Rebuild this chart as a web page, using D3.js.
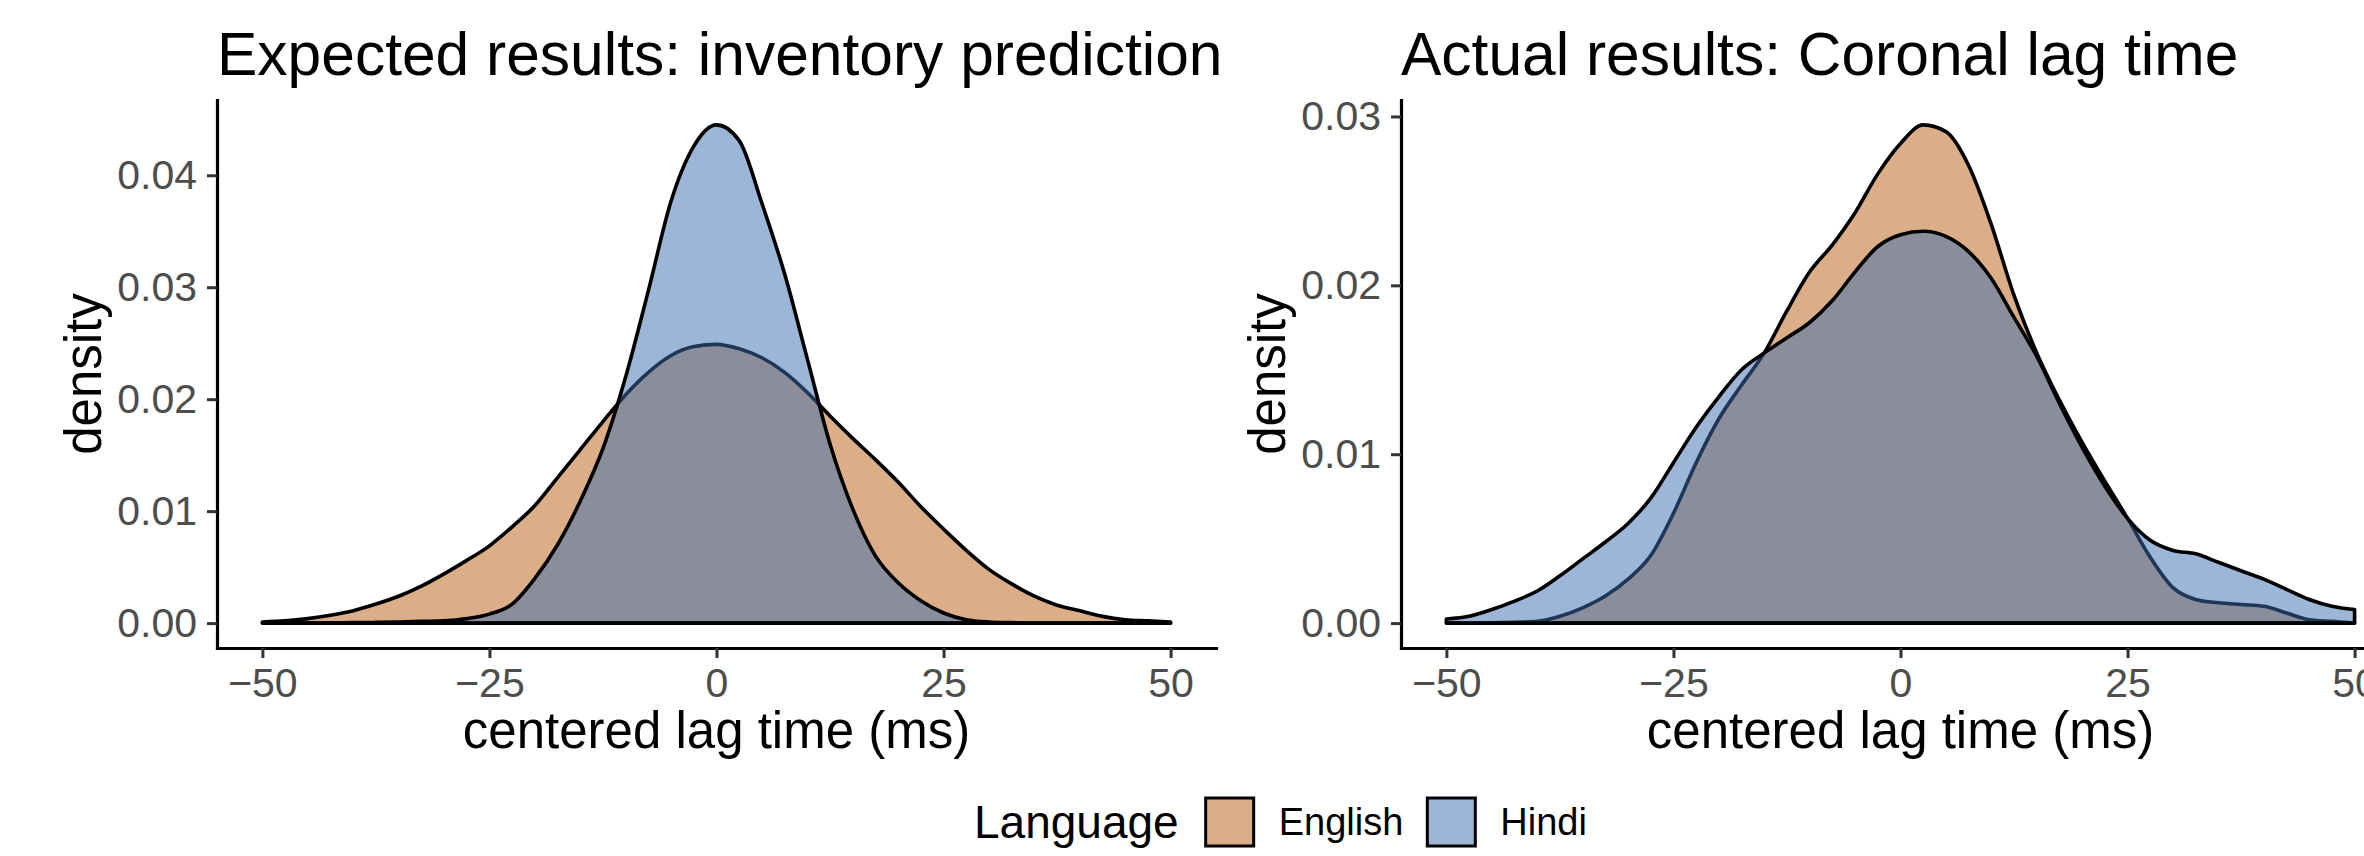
<!DOCTYPE html>
<html>
<head>
<meta charset="utf-8">
<script src="https://cdn.jsdelivr.net/npm/d3@7"></script>
<style>
  body { margin: 0; background: #fff; }
  svg { display: block; font-family: "Liberation Sans", Arial, Helvetica, sans-serif; }
</style>
</head>
<body>
<svg id="chart" width="2364" height="856"></svg>
<script>
// sample points of the density curves (ms)
var lagTimes = [-50, -47.5, -45, -42.5, -40, -37.5, -35, -32.5, -30, -27.5, -25, -22.5, -20, -17.5, -15, -12.5, -10, -7.5, -5, -2.5,
  0, 2.5, 5, 7.5, 10, 12.5, 15, 17.5, 20, 22.5, 25, 27.5, 30, 32.5, 35, 37.5, 40, 42.5, 45, 47.5, 50];

var languages = ["English", "Hindi"];

// left panel : expected results
var expectedEnglish = [0.0001, 0.0002, 0.0004, 0.0007, 0.0011, 0.0017, 0.0024, 0.0033, 0.0044, 0.0056, 0.0069, 0.0086, 0.0105, 0.0130, 0.0155, 0.0180, 0.0204, 0.0224, 0.0239, 0.0247,
  0.0249, 0.0245, 0.0237, 0.0224, 0.0206, 0.0185, 0.0165, 0.0146, 0.0126, 0.0104, 0.0084, 0.0065, 0.0048, 0.0035, 0.0024, 0.0016, 0.0011, 0.0006, 0.0003, 0.0002, 0.0001];
var expectedHindi = [0, 0, 0, 0.00002, 0.00004, 0.00006, 0.0001, 0.00015, 0.0002, 0.0004, 0.0008, 0.0017, 0.0040, 0.0070, 0.0109, 0.0156, 0.0220, 0.0297, 0.0377, 0.0426,
  0.0445, 0.0431, 0.0375, 0.0312, 0.0236, 0.0160, 0.0102, 0.0060, 0.0036, 0.0020, 0.0009, 0.0003, 0.0001, 0.00004, 0, 0, 0, 0, 0, 0, 0];

// right panel : actual results
var actualEnglish = [0, 0, 0.00002, 0.00005, 0.0001, 0.0004, 0.0009, 0.0016, 0.0026, 0.0040, 0.0065, 0.0095, 0.0121, 0.0141, 0.0160, 0.0185, 0.0208, 0.0224, 0.0243, 0.0266,
  0.0284, 0.0295, 0.0291, 0.0271, 0.0236, 0.0194, 0.0160, 0.0132, 0.0107, 0.0084, 0.0062, 0.0039, 0.0021, 0.0014, 0.0012, 0.0011, 0.0010, 0.0006, 0.0002, 0.0001, 0];
var actualHindi = [0.00024, 0.0004, 0.0008, 0.0013, 0.0019, 0.0028, 0.0038, 0.0048, 0.0059, 0.0074, 0.0095, 0.0116, 0.0134, 0.0150, 0.0160, 0.0169, 0.0178, 0.0191, 0.0208, 0.0223,
  0.0230, 0.0232, 0.0229, 0.0220, 0.0204, 0.0181, 0.0158, 0.0130, 0.0104, 0.0081, 0.0062, 0.0049, 0.0043, 0.0041, 0.0036, 0.0031, 0.0026, 0.0020, 0.0014, 0.0010, 0.0008];

var xTicks = [-50, -25, 0, 25, 50];
var expectedYTicks = [0, 0.01, 0.02, 0.03, 0.04];
var actualYTicks = [0, 0.01, 0.02, 0.03];

var panels = [
  { title: "Expected results: inventory prediction", left: 217, series: [expectedEnglish, expectedHindi], yTicks: expectedYTicks },
  { title: "Actual results: Coronal lag time", left: 1401, series: [actualEnglish, actualHindi], yTicks: actualYTicks }
];

var svg = d3.select("#chart");
var plotTop = 100, plotBottom = 648, panelWidth = 999;

var color = d3.scaleOrdinal()
  .domain(languages)
  .range(["#b95e11", "#3b6bad"]);

svg.append("rect").attr("width", 2364).attr("height", 856).attr("fill", "#fff");

panels.forEach(function(p) {
  var g = svg.append("g");

  var x = d3.scaleLinear().domain([-55, 55]).range([p.left, p.left + panelWidth]);
  var ymax = d3.max(p.series, function(s) { return d3.max(s); });
  var y = d3.scaleLinear().domain([-0.05 * ymax, 1.05 * ymax]).range([plotBottom, plotTop]);

  var area = d3.area()
    .x(function(d, i) { return x(lagTimes[i]); })
    .y0(y(0))
    .y1(function(d) { return y(d); })
    .curve(d3.curveMonotoneX);

  // English first, Hindi drawn over it
  g.selectAll("path.density")
    .data(p.series)
    .enter().append("path")
    .attr("class", "density")
    .attr("d", area)
    .attr("fill", function(d, i) { return color(languages[i]); })
    .attr("fill-opacity", 0.5)
    .attr("stroke", "#000")
    .attr("stroke-width", 3.6)
    .attr("stroke-linejoin", "round");

  var xAxis = g.append("g")
    .attr("transform", "translate(0," + plotBottom + ")")
    .call(d3.axisBottom(x)
      .tickValues(xTicks)
      .tickSize(10)
      .tickSizeOuter(0)
      .tickPadding(10)
      .tickFormat(function(d) { return d < 0 ? "\u2212" + Math.abs(d) : d; }));

  var yAxis = g.append("g")
    .attr("transform", "translate(" + p.left + ",0)")
    .call(d3.axisLeft(y)
      .tickValues(p.yTicks)
      .tickSize(10)
      .tickSizeOuter(0)
      .tickPadding(10)
      .tickFormat(d3.format(".2f")));

  [xAxis, yAxis].forEach(function(ax) {
    ax.select(".domain").attr("stroke", "#000").attr("stroke-width", 3.2).attr("stroke-linecap", "square");
    ax.selectAll(".tick line").attr("stroke", "#333").attr("stroke-width", 3);
    ax.selectAll(".tick text")
      .attr("fill", "#4d4d4d")
      .attr("font-size", 41)
      .attr("font-family", "Liberation Sans, Arial, sans-serif");
  });

  g.append("text")
    .attr("x", p.left)
    .attr("y", 75)
    .attr("font-size", 60.5)
    .attr("fill", "#000")
    .text(p.title);

  g.append("text")
    .attr("x", p.left + panelWidth / 2)
    .attr("y", 748)
    .attr("text-anchor", "middle")
    .attr("font-size", 51)
    .text("centered lag time (ms)");

  g.append("text")
    .attr("transform", "translate(" + (p.left - 116) + "," + ((plotTop + plotBottom) / 2) + ") rotate(-90)")
    .attr("text-anchor", "middle")
    .attr("font-size", 51)
    .text("density");
});

// legend
var legend = svg.append("g");
var legendTitle = legend.append("text")
  .attr("x", 974)
  .attr("y", 838)
  .attr("font-size", 46)
  .text("Language");

var cursor = 974 + legendTitle.node().getComputedTextLength() + 27;
languages.forEach(function(lang) {
  legend.append("rect")
    .attr("x", cursor)
    .attr("y", 798)
    .attr("width", 48)
    .attr("height", 48)
    .attr("fill", color(lang))
    .attr("fill-opacity", 0.5)
    .attr("stroke", "#000")
    .attr("stroke-width", 3);
  var label = legend.append("text")
    .attr("x", cursor + 48 + 25)
    .attr("y", 835)
    .attr("font-size", 38)
    .text(lang);
  cursor += 48 + 25 + label.node().getComputedTextLength() + 24;
});
</script>
</body>
</html>
